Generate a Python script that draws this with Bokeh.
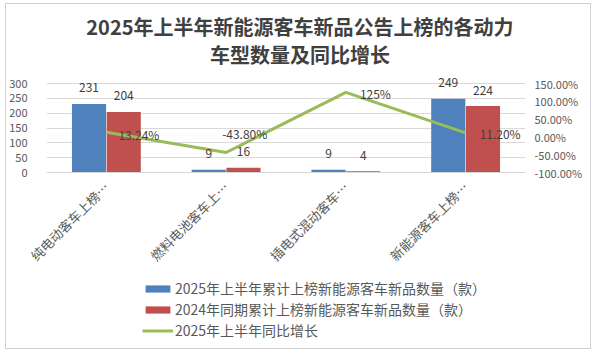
import math
from bokeh.plotting import figure
from bokeh.layouts import column
from bokeh.models import (FactorRange, Range1d, LinearAxis, NumeralTickFormatter,
                          FixedTicker, Legend, LegendItem, Label, LabelSet,
                          ColumnDataSource)
from bokeh.transform import dodge
from bokeh.embed import file_html
from bokeh.resources import INLINE
from bokeh.core.properties import value

# ---- data ----
categories = ["纯电动客车上榜…", "燃料电池客车上…", "插电式混动客车…", "新能源客车上榜…"]
count_2025 = [231, 9, 9, 249]
count_2024 = [204, 16, 4, 224]
yoy_growth = [0.1324, -0.438, 1.25, 0.112]
yoy_labels = ["13.24%", "-43.80%", "125%", "11.20%"]
series_names = ["2025年上半年累计上榜新能源客车新品数量（款）",
                "2024年同期累计上榜新能源客车新品数量（款）",
                "2025年上半年同比增长"]
title_lines = ["2025年上半年新能源客车新品公告上榜的各动力", "车型数量及同比增长"]
left_ticks = [0, 50, 100, 150, 200, 250, 300]
right_ticks = [-1.0, -0.5, 0.0, 0.5, 1.0, 1.5]

# ---- styles / layout ----
FONT = "Noto Sans CJK SC"
BLUE = "#4F81BD"
RED = "#C0504D"
GREEN = "#9BBB59"
TXT = "#595959"
DARK = "#404040"
GRID = "#d9d9d9"
yoy_dx = [12, -4, 14, 14]
yoy_dy = [-2, 19, -1, -1]

W = 586
HA, HB = 272, 72
FRAME_H = 168            # frame spans from canvas top down to the zero line
AXIS_PX = 89             # pixels between 0 and 300 on the left axis
FRAME_L, FRAME_R = 39, 521
y_top = 300 * FRAME_H / AXIS_PX
pct_top = -1.0 + 2.5 * y_top / 300
px_to_y = lambda py: (FRAME_H - py) * 300 / AXIS_PX
px_to_x = lambda px: (px - FRAME_L) / ((FRAME_R - FRAME_L) / len(categories))

src = ColumnDataSource(dict(
    cat=categories, c25=count_2025, c24=count_2024,
    t25=[str(v) for v in count_2025], t24=[str(v) for v in count_2024],
    g=yoy_growth, gl=yoy_labels, dx=yoy_dx, dy=yoy_dy,
))

p = figure(width=W, height=HA, x_range=FactorRange(*categories, range_padding=0),
           y_range=Range1d(0, y_top), output_backend="svg", toolbar_location=None,
           min_border_left=FRAME_L, min_border_right=W - FRAME_R, min_border_top=0,
           min_border_bottom=HA - FRAME_H)
p.extra_y_ranges = {"pct": Range1d(-1.0, pct_top)}
p.outline_line_color = None
p.background_fill_color = "white"
p.border_fill_color = "white"

r25 = p.vbar(x=dodge("cat", -0.145, range=p.x_range), top="c25", width=0.285,
             source=src, fill_color=BLUE, line_color=None)
r24 = p.vbar(x=dodge("cat", 0.145, range=p.x_range), top="c24", width=0.285,
             source=src, fill_color=RED, line_color=None)
rl = p.line(x="cat", y="g", source=src, y_range_name="pct", line_color=GREEN,
            line_width=3)

# axes
p.yaxis.ticker = FixedTicker(ticks=left_ticks)
p.xaxis.major_label_orientation = math.pi / 4
for ax in [p.xaxis[0], p.yaxis[0]]:
    ax.major_tick_line_color = None
    ax.minor_tick_line_color = None
    ax.major_label_text_font = FONT
    ax.major_label_text_color = TXT
p.yaxis.major_label_text_font_size = "11px"
p.xaxis.major_label_text_font_size = "13px"
p.yaxis.axis_line_color = None
p.yaxis.major_label_standoff = 13
p.xaxis.axis_line_color = GRID
p.xaxis.major_label_standoff = 6

ra = LinearAxis(y_range_name="pct", ticker=FixedTicker(ticks=right_ticks),
                formatter=NumeralTickFormatter(format="0.00%"))
ra.axis_line_color = None
ra.major_tick_line_color = None
ra.minor_tick_line_color = None
ra.major_label_text_font = FONT
ra.major_label_text_font_size = "11px"
ra.major_label_text_color = TXT
ra.major_label_standoff = 3
p.add_layout(ra, "right")

p.xgrid.grid_line_color = None
p.ygrid.grid_line_color = GRID

# data labels
for xo, col, ycol in [(-0.145, "t25", "c25"), (0.145, "t24", "c24")]:
    p.add_layout(LabelSet(x=dodge("cat", xo, range=p.x_range), y=ycol,
                          text=col, source=src, text_align="center",
                          text_baseline="middle", y_offset=16, text_font=value(FONT),
                          text_font_size="12px", text_color=DARK))
p.add_layout(LabelSet(x="cat", y="g", y_range_name="pct", text="gl", source=src,
                      x_offset="dx", y_offset="dy", text_align="left",
                      text_baseline="middle", text_font=value(FONT),
                      text_font_size="12px", text_color=DARK))

# title (inside the extended frame)
for i, t in enumerate(title_lines):
    p.add_layout(Label(x=px_to_x(294), y=px_to_y(21.5 + 28.5 * i), text=t,
                       text_align="center", text_baseline="middle",
                       text_font=FONT, text_font_size="20px",
                       text_font_style="bold", text_color=DARK))

# legend figure
nan = float("nan")
q = figure(width=W, height=HB, x_range=Range1d(0, W), y_range=Range1d(0, HB),
           output_backend="svg", toolbar_location=None, min_border=0,
           x_axis_location=None, y_axis_location=None)
q.outline_line_color = None
q.xgrid.visible = False
q.ygrid.visible = False
q.border_fill_color = "white"
e25 = q.vbar(x=[nan], top=[nan], width=1, fill_color=BLUE, line_color=None)
e24 = q.vbar(x=[nan], top=[nan], width=1, fill_color=RED, line_color=None)
el = q.line(x=[nan, nan], y=[nan, nan], line_color=GREEN, line_width=3)
leg = Legend(items=[LegendItem(label=series_names[0], renderers=[e25]),
                    LegendItem(label=series_names[1], renderers=[e24]),
                    LegendItem(label=series_names[2], renderers=[el])],
             location=(96, 8), orientation="vertical")
leg.padding = 0
leg.margin = 0
leg.border_line_color = None
leg.background_fill_alpha = 0
leg.glyph_width = 31
leg.glyph_height = 9
leg.label_height = 14
leg.spacing = 1
leg.label_standoff = 2
leg.label_text_font = FONT
leg.label_text_font_size = "14px"
leg.label_text_color = TXT
q.add_layout(leg, "center")

layout = column(p, q, spacing=0)
layout.margin = (3, 0, 0, 5)
layout.styles = {"border": "1px solid #d0d0d0", "width": "586px"}

open("out.html", "w").write(file_html(layout, INLINE))
